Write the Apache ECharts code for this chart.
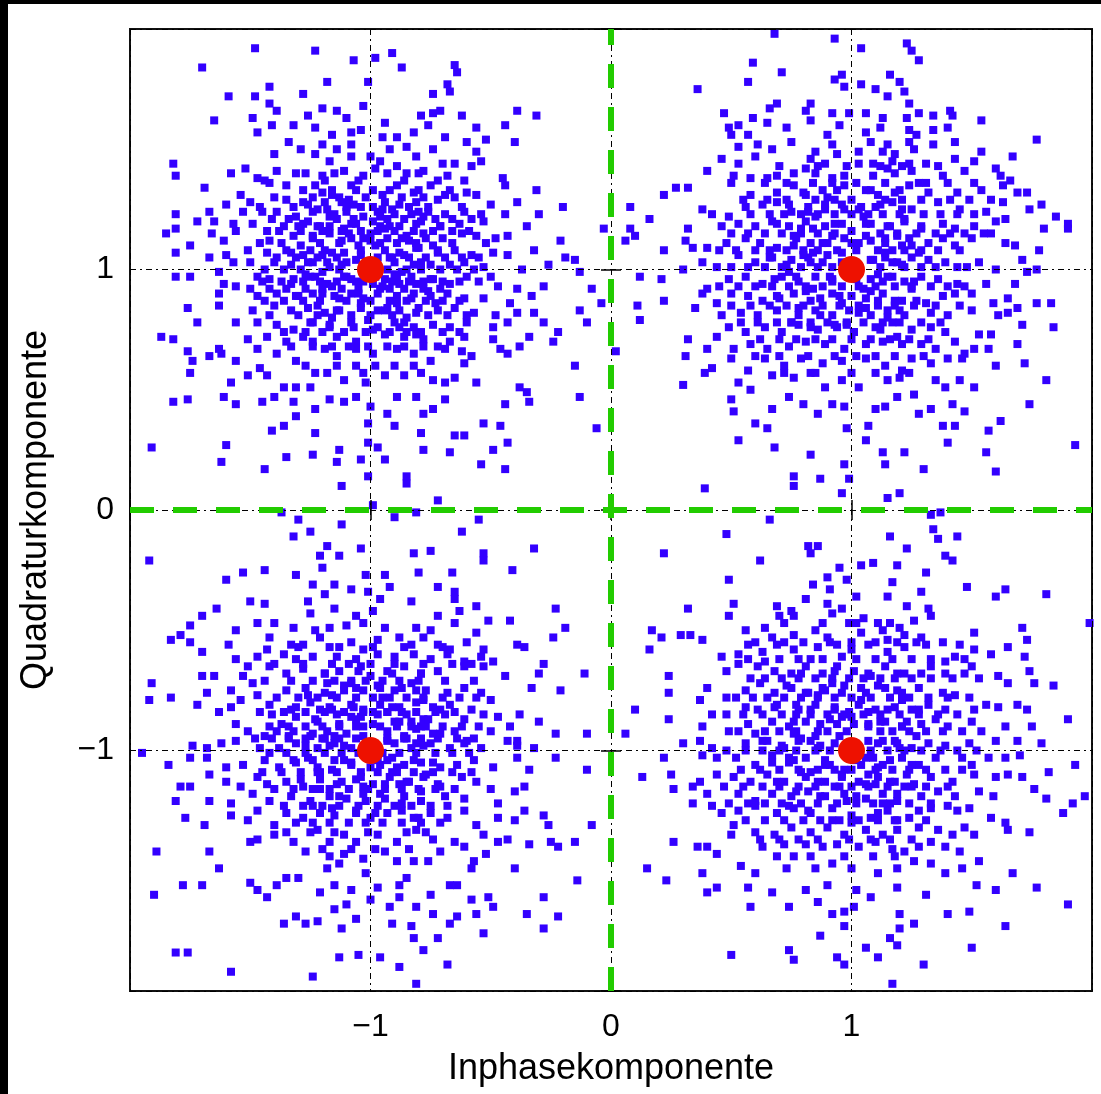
<!DOCTYPE html>
<html>
<head>
<meta charset="utf-8">
<title>QPSK Signalraum</title>
<script src="https://cdn.jsdelivr.net/npm/echarts@6/dist/echarts.min.js"></script>
<style>
  html, body { margin: 0; padding: 0; background: #000; }
  #chart { position: absolute; left: 8px; top: 4px; width: 1093px; height: 1090px; background: #fff; }
</style>
</head>
<body>
<div id="chart"></div>
<script>
// Sollsymbole (rot)
const symbolPoints = [[-1, 1], [1, 1], [-1, -1], [1, -1]]

// Achsenbeschriftung
const tickValues = [-1, 0, 1]
const tickText = ['\u22121', '0', '1']

const clusterTL = [
  [-1.48,1.92],[-1.23,1.91],[-1.07,1.87],[-0.98,1.88],[-0.91,1.90],[-1.70,1.84],[-0.87,1.84],[-0.65,1.85],[-0.64,1.82],
  [-1.18,1.78],[-1.01,1.78],[-0.68,1.77],[-0.67,1.74],[-1.42,1.76],[-1.59,1.72],[-1.48,1.72],[-1.28,1.73],[-0.74,1.73],
  [-1.42,1.69],[-1.39,1.66],[-1.20,1.67],[-1.14,1.66],[-1.03,1.68],[-1.26,1.64],[-1.10,1.63],[-0.94,1.61],[-0.79,1.64],
  [-0.74,1.65],[-0.71,1.66],[-0.62,1.64],[-0.39,1.66],[-0.31,1.64],[-1.65,1.62],[-1.49,1.63],[-1.41,1.60],[-1.32,1.60],
  [-0.44,1.60],[-0.56,1.59],
  [-1.47,1.57],[-1.23,1.59],[-1.16,1.56],[-1.08,1.57],[-1.04,1.58],[-0.95,1.55],[-0.89,1.55],[-0.82,1.57],[-0.76,1.60],
  [-0.69,1.55],[-0.60,1.53],[-0.52,1.54],[-0.40,1.53],[-1.34,1.53],[-1.29,1.50],[-1.20,1.52],[-1.14,1.50],[-1.08,1.52],
  [-1.00,1.47],[-0.92,1.50],[-0.85,1.51],[-0.74,1.50],[-0.56,1.49],[-1.40,1.48],[-1.23,1.48],[-1.17,1.45],[-1.08,1.47],
  [-0.96,1.45],[-0.89,1.43],[-0.81,1.47],[-0.65,1.44],[-0.58,1.43],[-0.54,1.45],[-1.82,1.44],[-1.81,1.39],[-1.58,1.40],
  [-1.52,1.42],[-1.39,1.41],[-1.31,1.40],[-1.20,1.39],[-1.11,1.41],[-1.03,1.39],[-0.98,1.42],[-0.85,1.40],[-0.78,1.41],
  [-0.70,1.44],[-0.68,1.39],[-0.45,1.38],
  [-1.69,1.34],[-1.47,1.38],[-1.42,1.36],[-1.35,1.35],[-1.28,1.33],[-1.23,1.35],[-1.16,1.33],[-1.08,1.35],[-0.99,1.33],
  [-0.89,1.35],[-0.82,1.32],[-0.75,1.35],[-0.67,1.33],[-0.61,1.37],[-0.60,1.32],[-0.44,1.35],[-0.31,1.33],[-1.54,1.31],
  [-1.50,1.28],[-1.35,1.29],[-1.28,1.28],[-1.19,1.28],[-1.13,1.30],[-1.07,1.27],[-0.94,1.28],[-0.87,1.30],[-0.81,1.28],
  [-0.72,1.29],[-0.65,1.30],[-0.56,1.31],[-0.50,1.27],[-0.39,1.28],[-0.20,1.26],[-1.60,1.27],[-1.81,1.23],[-1.67,1.24],
  [-1.53,1.24],[-1.45,1.24],[-1.39,1.24],[-1.31,1.22],[-1.24,1.24],[-1.17,1.22],[-1.10,1.24],[-1.03,1.22],[-0.97,1.24],
  [-0.90,1.23],[-0.83,1.23],[-0.76,1.24],[-0.69,1.23],[-0.61,1.24],[-0.54,1.23],[-0.44,1.23],[-0.30,1.23],[-1.72,1.20],
  [-1.65,1.20],[-1.57,1.19],[-1.49,1.19],[-1.36,1.18],[-1.28,1.19],[-1.21,1.18],[-1.11,1.17],[-1.06,1.19],[-0.96,1.18],
  [-0.88,1.18],[-0.81,1.19],[-0.71,1.18],[-0.63,1.19],[-0.53,1.20],[-0.35,1.18],[-0.03,1.17],
  [-1.85,1.15],[-1.81,1.17],[-1.75,1.10],[-1.66,1.15],[-1.56,1.16],[-1.43,1.16],[-1.42,1.12],[-1.32,1.14],[-1.24,1.13],
  [-1.17,1.15],[-1.08,1.13],[-1.00,1.15],[-0.93,1.13],[-0.85,1.14],[-0.78,1.15],[-0.70,1.13],[-0.62,1.15],[-0.56,1.14],
  [-0.48,1.13],[-0.43,1.14],[-0.21,1.12],[-1.81,1.07],[-1.67,1.05],[-1.61,1.12],[-1.60,1.06],[-1.51,1.08],[-1.43,1.07],
  [-1.35,1.08],[-1.28,1.06],[-1.19,1.08],[-1.11,1.07],[-1.04,1.08],[-0.94,1.08],[-0.88,1.07],[-0.81,1.09],[-0.72,1.07],
  [-0.65,1.08],[-0.58,1.06],[-0.49,1.07],[-0.43,1.06],[-0.32,1.08],[-0.19,1.05],[-0.15,1.04],[-0.26,1.02],[-0.13,0.99],
  [-1.63,0.99],[-1.57,1.03],[-1.50,1.03],[-1.40,1.03],[-1.33,1.02],[-1.24,1.03],[-1.17,1.01],[-1.10,1.03],[-0.90,1.03],
  [-0.85,1.00],[-0.75,1.02],[-0.67,1.02],[-0.61,1.03],[-0.53,1.01],[-0.37,1.00],
  [-1.81,0.97],[-1.75,0.97],[-1.61,0.94],[-1.56,0.93],[-1.47,0.97],[-1.42,0.96],[-1.33,0.94],[-1.25,0.97],[-1.18,0.94],
  [-1.11,0.97],[-1.03,0.95],[-0.94,0.96],[-0.89,0.97],[-0.81,0.94],[-0.75,0.96],[-0.67,0.94],[-0.60,0.97],[-0.50,0.97],
  [-0.47,0.93],[-0.39,0.92],[-0.28,0.93],[-0.08,0.92],[-0.04,0.86],[-1.63,0.90],[-1.47,0.89],[-1.39,0.90],[-1.31,0.89],
  [-1.24,0.90],[-1.15,0.89],[-1.08,0.90],[-1.03,0.88],[-0.97,0.90],[-0.89,0.89],[-0.82,0.90],[-0.75,0.89],[-0.68,0.90],
  [-0.61,0.88],[-0.53,0.88],[-0.42,0.86],[-0.33,0.89],[-1.76,0.84],[-1.63,0.85],[-1.72,0.78],[-1.49,0.83],[-1.40,0.85],
  [-1.33,0.83],[-1.26,0.84],[-1.19,0.82],[-1.13,0.83],[-1.04,0.84],[-0.94,0.83],[-0.88,0.83],[-0.81,0.82],[-0.72,0.83],
  [-0.65,0.84],[-0.57,0.82],[-0.48,0.81],[-0.39,0.82],[-0.32,0.82],[-0.13,0.83],[-0.10,0.78],[-1.56,0.78],
  [-1.47,0.78],[-1.39,0.77],[-1.32,0.75],[-1.24,0.78],[-1.17,0.76],[-1.08,0.78],[-0.97,0.76],[-0.90,0.78],[-0.82,0.76],
  [-0.74,0.77],[-0.67,0.76],[-0.60,0.78],[-0.49,0.76],[-0.43,0.78],[-0.28,0.78],[-1.87,0.72],[-1.82,0.71],[-1.51,0.71],
  [-1.43,0.72],[-1.35,0.70],[-1.28,0.72],[-1.24,0.70],[-1.14,0.72],[-1.06,0.70],[-0.94,0.73],[-0.86,0.72],[-0.78,0.71],
  [-0.67,0.70],[-0.61,0.72],[-0.49,0.71],[-0.34,0.72],[-0.22,0.74],[-0.24,0.70],[-1.76,0.66],[-1.74,0.62],[-1.67,0.64],
  [-1.63,0.67],[-1.62,0.65],[-1.56,0.62],[-1.47,0.67],[-1.39,0.65],[-1.31,0.62],[-1.19,0.67],[-1.14,0.64],[-1.06,0.67],
  [-0.99,0.65],[-0.89,0.67],[-0.82,0.65],[-0.75,0.62],[-0.69,0.67],[-0.62,0.66],[-0.58,0.64],[-0.46,0.67],[-0.43,0.65],
  [-0.38,0.68],[-0.15,0.60],[-0.61,0.61],
  [-1.75,0.57],[-1.58,0.53],[-1.51,0.56],[-1.46,0.59],[-1.43,0.56],[-1.36,0.51],[-1.31,0.51],[-1.25,0.51],[-1.23,0.57],
  [-1.18,0.57],[-1.11,0.54],[-1.03,0.57],[-1.02,0.53],[-0.94,0.56],[-0.86,0.56],[-0.79,0.57],[-0.74,0.54],[-0.69,0.53],
  [-0.65,0.55],[-0.56,0.53],[-0.38,0.51],[-0.35,0.49],[-1.82,0.45],[-1.76,0.46],[-1.61,0.47],[-1.56,0.44],[-1.45,0.45],
  [-1.40,0.47],[-1.32,0.45],[-1.31,0.39],[-1.23,0.42],[-1.17,0.46],[-1.11,0.45],[-1.06,0.47],[-1.00,0.43],[-0.93,0.40],
  [-0.89,0.47],[-0.81,0.47],[-0.78,0.40],[-0.74,0.42],[-0.69,0.46],[-0.44,0.44],[-0.34,0.45],[-0.13,0.47],[-0.06,0.34],
  [-1.36,0.35],[-1.41,0.33],[-1.23,0.32],[-1.01,0.36],[-0.90,0.35],[-0.79,0.32],[-0.65,0.31],[-0.61,0.31],[-0.53,0.36],
  [-0.46,0.35],[-0.43,0.28],
  [-1.91,0.26],[-1.60,0.27],[-1.01,0.28],[-0.97,0.26],[-0.78,0.25],[-0.67,0.24],[-0.49,0.25],[-1.62,0.20],[-1.35,0.22],
  [-1.24,0.23],[-1.13,0.25],[-1.04,0.21],[-0.94,0.21],[-1.14,0.20],[-1.44,0.17],[-0.54,0.19],[-0.44,0.17],[-1.01,0.14],
  [-0.85,0.14],[-0.85,0.11],[-1.12,0.10],[-0.72,0.04],[-0.99,0.02]
]

// dichter Kern um (-1, 1)
const coreTL = [
  [-1.27,1.40],[-1.15,1.40],[-0.93,1.40],[-0.80,1.40],
  [-1.44,1.37],[-1.19,1.37],[-1.05,1.37],[-0.86,1.37],[-0.72,1.37],
  [-1.40,1.30],[-1.24,1.30],[-1.16,1.31],[-1.02,1.30],[-0.95,1.31],[-0.78,1.30],[-0.69,1.31],
  [-1.46,1.26],[-1.32,1.26],[-1.22,1.25],[-1.10,1.26],[-0.99,1.26],[-0.91,1.25],[-0.84,1.26],[-0.76,1.26],[-0.62,1.26],
  [-1.41,1.21],[-1.34,1.21],[-1.26,1.20],[-1.14,1.21],[-1.07,1.21],[-0.99,1.20],[-0.93,1.21],[-0.86,1.21],[-0.79,1.20],
  [-0.73,1.21],[-0.66,1.21],[-0.58,1.21],
  [-1.38,1.16],[-1.29,1.16],[-1.20,1.16],[-1.12,1.16],[-1.04,1.16],[-0.97,1.16],[-0.90,1.16],[-0.82,1.16],[-0.74,1.16],
  [-0.66,1.16],[-0.59,1.16],
  [-1.46,1.11],[-1.37,1.11],[-1.29,1.10],[-1.21,1.11],[-1.13,1.11],[-1.05,1.10],[-0.96,1.11],[-0.89,1.11],[-0.81,1.11],
  [-0.74,1.10],[-0.66,1.11],[-0.52,1.11],
  [-1.39,1.05],[-1.31,1.05],[-1.22,1.05],[-1.14,1.05],[-1.06,1.04],[-0.97,1.05],[-0.91,1.05],[-0.84,1.05],[-0.77,1.05],
  [-0.69,1.05],[-0.62,1.05],[-0.55,1.05],
  [-1.44,1.00],[-1.36,1.00],[-1.29,1.00],[-1.20,0.99],[-1.13,1.00],[-0.93,1.00],[-0.87,0.99],[-0.79,1.00],[-0.71,1.00],
  [-0.64,1.00],[-0.57,1.00],
  [-1.45,0.95],[-1.37,0.95],[-1.28,0.95],[-1.21,0.95],[-1.14,0.95],[-1.06,0.95],[-0.99,0.94],[-0.91,0.95],[-0.84,0.95],
  [-0.78,0.95],[-0.70,0.95],[-0.63,0.95],[-0.55,0.95],
  [-1.50,0.92],[-1.42,0.92],[-1.35,0.92],[-1.27,0.92],[-1.20,0.92],[-1.12,0.92],[-1.05,0.92],[-0.96,0.92],[-0.86,0.92],
  [-0.78,0.92],[-0.71,0.92],
  [-1.44,0.87],[-1.36,0.87],[-1.28,0.87],[-1.21,0.87],[-1.10,0.87],[-1.00,0.87],[-0.92,0.87],[-0.85,0.87],[-0.77,0.87],
  [-0.70,0.87],[-0.63,0.87],
  [-1.42,0.81],[-1.30,0.81],[-1.22,0.81],[-1.16,0.80],[-1.08,0.81],[-1.00,0.81],[-0.91,0.81],[-0.85,0.80],[-0.76,0.81],
  [-0.68,0.81],[-0.60,0.81],
  [-1.36,0.74],[-1.27,0.74],[-1.20,0.74],[-1.11,0.74],[-1.02,0.74],[-0.92,0.74],[-0.85,0.74],[-0.79,0.74],[-0.70,0.74],
  [-0.63,0.74],
  [-1.33,0.68],[-1.24,0.68],[-1.16,0.68],[-1.09,0.68],[-1.01,0.68],[-0.93,0.68],[-0.86,0.68],[-0.78,0.68],[-0.72,0.68],
  [-1.27,0.60],[-1.14,0.60],[-1.06,0.60],[-0.98,0.60],[-0.90,0.60],[-0.82,0.60],
  [-1.22,1.18],[-1.15,1.23],[-1.08,1.19],[-0.94,1.17],[-0.87,1.13],[-0.80,1.09],[-1.25,1.08],[-1.18,1.03],[-1.10,0.97],
  [-1.05,0.90],[-0.95,0.93],[-0.90,0.98],[-0.82,1.02],[-0.76,0.91],[-0.98,1.10],[-1.03,1.13],[-1.12,1.12],[-1.20,0.90],
  [-1.27,0.98],[-0.93,0.84],[-0.86,0.78],[-1.01,0.79],[-1.14,0.83],[-0.80,1.24],[-0.95,1.25],[-1.09,1.29],[-0.88,0.94],
  [-1.16,1.07],[-0.92,1.05],[-0.83,0.88],
  [-1.26,1.27],[-1.18,1.25],[-1.12,1.28],[-1.04,1.26],[-0.96,1.22],[-0.88,1.27],[-0.78,1.22],[-0.71,1.18],
  [-1.30,1.18],[-1.24,1.14],[-1.17,1.18],[-1.09,1.15],[-1.00,1.12],[-0.92,1.18],[-0.84,1.12],[-0.77,1.13],
  [-1.33,1.07],[-1.26,1.03],[-1.20,1.06],[-1.12,1.02],[-1.04,1.06],[-0.86,1.06],[-0.79,1.03],[-0.72,1.08],
  [-1.32,0.96],[-1.23,0.97],[-1.16,0.93],[-1.08,0.96],[-0.98,0.97],[-0.92,0.92],[-0.83,0.97],[-0.74,0.96],
  [-1.30,0.89],[-1.22,0.85],[-1.13,0.88],[-1.04,0.86],[-0.97,0.83],[-0.89,0.86],[-0.80,0.84],[-0.73,0.86],
  [-1.25,0.78],[-1.17,0.77],[-1.07,0.76],[-0.99,0.75],[-0.88,0.76],[-0.81,0.73],
  [-1.20,1.32],[-1.06,1.33],[-0.92,1.33],[-0.80,1.33]
]

const clusterTR = [
  [0.68,1.98],[0.93,1.96],[1.04,1.92],[1.23,1.94],[1.25,1.91],[1.28,1.87],[0.59,1.86],[0.71,1.82],[0.96,1.81],[0.93,1.79],
  [1.16,1.81],[0.57,1.78],[0.36,1.75],[0.97,1.76],[1.04,1.77],[1.10,1.75],[1.20,1.78],[1.22,1.74],[1.15,1.72],[0.69,1.69],
  [0.66,1.67],[0.83,1.69],[0.81,1.66],[1.24,1.69],[0.47,1.65],[0.92,1.65],[0.99,1.65],[1.06,1.65],[1.28,1.65],[1.34,1.64],
  [1.41,1.66],[1.42,1.64],[0.59,1.63],[0.65,1.61],[0.83,1.62],[1.13,1.63],[1.23,1.63],[1.54,1.62],[0.49,1.59],[0.53,1.60],
  [0.73,1.59],[0.95,1.60],[1.12,1.59],[1.24,1.58],[1.34,1.58],[1.40,1.59],
  [0.50,1.56],[0.57,1.56],[0.75,1.53],[0.90,1.56],[0.92,1.52],[1.06,1.57],[1.08,1.53],[1.15,1.52],[1.24,1.53],[1.27,1.56],
  [1.34,1.52],[1.43,1.53],[1.77,1.54],[0.53,1.51],[0.61,1.52],[0.67,1.50],[0.85,1.49],[0.94,1.48],[1.03,1.49],[1.13,1.49],
  [1.18,1.48],[1.26,1.50],[1.54,1.49],[1.67,1.47],[0.46,1.46],[0.53,1.44],[0.60,1.47],[0.83,1.46],[0.89,1.44],[1.03,1.44],
  [1.09,1.44],[1.17,1.45],[1.24,1.44],[1.31,1.44],[1.43,1.46],[1.51,1.45],[0.40,1.41],[0.51,1.39],[0.58,1.38],[0.65,1.38],
  [0.69,1.39],[0.76,1.40],[0.81,1.42],[0.85,1.40],[0.92,1.38],[0.97,1.39],[1.09,1.39],[1.15,1.42],[1.18,1.40],[1.25,1.41],
  [1.38,1.39],[1.47,1.41],[1.60,1.42],[1.62,1.39],
  [0.22,1.31],[0.27,1.34],[0.32,1.34],[0.50,1.36],[0.58,1.31],[0.69,1.32],[0.76,1.35],[0.81,1.31],[0.88,1.33],[0.97,1.35],
  [1.06,1.33],[1.11,1.31],[1.18,1.32],[1.24,1.35],[1.31,1.36],[1.32,1.32],[1.44,1.32],[1.51,1.36],[1.54,1.33],[1.63,1.35],
  [1.66,1.37],[1.69,1.32],[1.73,1.32],[0.08,1.26],[0.38,1.25],[0.42,1.23],[0.49,1.22],[0.56,1.26],[0.63,1.27],[0.69,1.28],
  [0.75,1.24],[0.82,1.26],[0.89,1.25],[0.96,1.27],[1.03,1.25],[1.10,1.26],[1.17,1.28],[1.25,1.25],[1.36,1.28],[1.45,1.25],
  [1.56,1.24],[1.58,1.29],[1.63,1.28],[1.74,1.25],[1.79,1.27],[0.16,1.21],[0.08,1.17],[0.32,1.17],[0.46,1.18],[0.53,1.19],
  [0.60,1.18],[0.67,1.20],[0.74,1.18],[0.81,1.20],[0.89,1.18],[0.96,1.19],[1.08,1.19],[1.15,1.18],[1.22,1.20],[1.29,1.18],
  [1.38,1.19],[1.43,1.17],[1.51,1.18],[1.60,1.20],[1.64,1.21],[1.80,1.17],[1.85,1.22],[1.90,1.19],
  [0.06,1.12],[0.10,1.14],[0.22,1.08],[0.31,1.12],[0.34,1.09],[0.40,1.09],[0.48,1.11],[0.56,1.13],[0.62,1.11],[0.69,1.09],
  [0.76,1.14],[0.83,1.11],[0.90,1.11],[1.00,1.11],[1.06,1.14],[1.14,1.11],[1.19,1.14],[1.25,1.10],[1.32,1.11],[1.38,1.13],
  [1.43,1.10],[1.50,1.13],[1.58,1.15],[1.64,1.11],[1.68,1.10],[1.78,1.08],[1.90,1.17],[0.38,1.03],[0.44,1.01],[0.30,1.00],
  [0.53,1.06],[0.60,1.03],[0.67,1.05],[0.75,1.04],[0.83,1.03],[0.90,1.06],[0.96,1.03],[1.08,1.04],[1.14,1.07],[1.19,1.03],
  [1.25,1.05],[1.32,1.04],[1.39,1.03],[1.53,1.03],[1.71,1.04],[1.60,1.00],[1.73,0.99],[1.77,1.00],[0.12,0.97],[0.21,0.96],
  [0.38,0.90],[0.40,0.92],[0.49,0.96],[0.56,0.97],[0.63,0.94],[0.71,0.97],[0.78,0.95],[0.85,0.97],[0.92,0.96],[1.08,0.96],
  [1.15,0.97],[1.22,0.95],[1.29,0.97],[1.36,0.96],[1.44,0.94],[1.56,0.94],[1.68,0.94],[0.22,0.87],[0.11,0.85],[0.12,0.79],
  [0.35,0.84],[0.44,0.86],[0.50,0.90],[0.57,0.89],[0.63,0.87],[0.69,0.89],[0.76,0.90],[0.83,0.87],[0.92,0.90],[1.00,0.89],
  [1.06,0.88],[1.13,0.90],[1.21,0.87],[1.31,0.86],[1.38,0.89],[1.43,0.90],[1.50,0.90],[1.59,0.86],[1.65,0.88],[1.69,0.84],
  [1.77,0.86],[1.83,0.86],[0.46,0.81],[0.54,0.82],[0.61,0.81],[0.69,0.83],[0.78,0.81],[0.85,0.83],[0.92,0.81],[0.99,0.83],
  [1.08,0.81],[1.15,0.83],[1.22,0.81],[1.33,0.82],[1.40,0.81],[1.50,0.83],[1.61,0.81],[1.65,0.82],
  [0.49,0.76],[0.56,0.74],[0.64,0.76],[0.71,0.74],[0.78,0.77],[0.86,0.75],[0.94,0.76],[1.01,0.74],[1.10,0.76],[1.17,0.78],
  [1.25,0.75],[1.33,0.76],[1.39,0.74],[1.53,0.73],[1.58,0.73],[1.71,0.77],[1.84,0.76],[0.32,0.71],[0.44,0.72],[0.02,0.66],
  [0.31,0.64],[0.40,0.67],[0.51,0.67],[0.58,0.69],[0.65,0.67],[0.74,0.68],[0.81,0.70],[0.89,0.69],[0.97,0.67],[1.06,0.69],
  [1.13,0.70],[1.21,0.69],[1.29,0.69],[1.35,0.67],[1.43,0.70],[1.47,0.65],[1.51,0.67],[1.57,0.67],[1.69,0.69],[0.39,0.57],
  [0.42,0.59],[0.50,0.63],[0.57,0.58],[0.64,0.63],[0.72,0.60],[0.79,0.63],[0.88,0.61],[0.96,0.62],[1.06,0.63],[1.14,0.60],
  [1.21,0.58],[1.25,0.63],[1.33,0.61],[1.40,0.63],[1.46,0.63],[1.60,0.60],[1.72,0.61],
  [0.30,0.52],[0.53,0.53],[0.58,0.50],[0.67,0.56],[0.76,0.55],[0.83,0.57],[0.89,0.51],[0.96,0.54],[1.03,0.51],[1.15,0.54],
  [1.20,0.55],[1.35,0.54],[1.39,0.51],[1.45,0.54],[1.51,0.51],[1.81,0.54],[0.50,0.46],[0.51,0.41],[0.67,0.42],[0.74,0.47],
  [0.80,0.44],[0.86,0.40],[0.92,0.44],[0.97,0.43],[1.10,0.42],[1.14,0.43],[1.19,0.47],[1.26,0.48],[1.28,0.40],[1.33,0.42],
  [1.42,0.44],[1.47,0.41],[1.74,0.44],[0.60,0.36],[0.65,0.34],[0.98,0.34],[1.07,0.35],[1.38,0.35],[1.43,0.35],[1.57,0.33],
  [1.62,0.37],[0.53,0.29],[0.68,0.26],[1.06,0.29],[1.40,0.28],[1.93,0.27],[0.83,0.23],[1.13,0.24],[1.22,0.24],[1.56,0.24],
  [0.97,0.19],[1.14,0.19],[1.30,0.17],[1.60,0.16],[0.76,0.14],[0.76,0.10],[0.87,0.13],[0.99,0.13],[0.39,0.09],[0.96,0.07],
  [1.20,0.07],[1.15,0.05]
]

// dichter Kern um (1, 1)
const coreTR = [
  [0.70,1.43],[0.86,1.43],[0.98,1.43],[1.12,1.43],[1.21,1.43],[1.36,1.43],
  [0.64,1.36],[0.73,1.36],[0.84,1.36],[0.92,1.36],[1.02,1.36],[1.14,1.36],[1.28,1.36],[1.40,1.36],
  [0.55,1.29],[0.65,1.29],[0.73,1.29],[0.85,1.29],[0.93,1.29],[1.00,1.29],[1.14,1.29],[1.21,1.29],[1.29,1.29],[1.41,1.29],
  [1.49,1.29],
  [0.58,1.23],[0.66,1.23],[0.72,1.23],[0.79,1.23],[0.86,1.23],[0.93,1.23],[1.00,1.23],[1.07,1.23],[1.13,1.23],[1.20,1.23],
  [1.30,1.23],[1.37,1.23],[1.44,1.23],[1.51,1.23],
  [0.50,1.15],[0.57,1.15],[0.64,1.15],[0.71,1.15],[0.79,1.15],[0.86,1.15],[0.93,1.15],[1.12,1.15],[1.19,1.15],[1.27,1.15],
  [1.35,1.15],[1.41,1.15],[1.47,1.15],[1.55,1.15],
  [0.45,1.08],[0.52,1.08],[0.60,1.08],[0.66,1.08],[0.73,1.08],[0.80,1.08],[0.86,1.08],[0.94,1.08],[1.02,1.08],[1.11,1.08],
  [1.17,1.08],[1.22,1.08],[1.29,1.08],[1.36,1.08],[1.45,1.08],
  [0.50,1.01],[0.57,1.01],[0.64,1.01],[0.71,1.01],[0.79,1.01],[0.86,1.01],[0.92,1.01],[1.12,1.01],[1.22,1.01],[1.29,1.01],
  [1.35,1.01],[1.44,1.01],[1.48,1.01],
  [0.45,0.93],[0.53,0.93],[0.60,0.93],[0.67,0.93],[0.74,0.93],[0.81,0.93],[0.88,0.93],[0.96,0.93],[1.03,0.93],[1.10,0.93],
  [1.18,0.93],[1.25,0.93],[1.33,0.93],[1.40,0.93],[1.47,0.93],
  [0.50,0.85],[0.58,0.85],[0.66,0.85],[0.73,0.85],[0.80,0.85],[0.88,0.85],[0.95,0.85],[1.03,0.85],[1.11,0.85],[1.18,0.85],
  [1.26,0.85],[1.35,0.85],[1.45,0.85],
  [0.54,0.78],[0.61,0.78],[0.69,0.78],[0.75,0.78],[0.83,0.78],[0.90,0.78],[0.98,0.78],[1.05,0.78],[1.13,0.78],[1.20,0.78],
  [1.29,0.78],[1.37,0.78],
  [0.62,0.71],[0.70,0.71],[0.77,0.71],[0.85,0.71],[0.92,0.71],[1.00,0.71],[1.08,0.71],[1.16,0.71],[1.24,0.71],[1.32,0.71],
  [0.60,0.64],[0.70,0.64],[0.82,0.64],[0.93,0.64],[1.02,0.64],[1.10,0.64],[1.18,0.64],[1.30,0.64],
  [0.72,0.57],[0.85,0.57],[1.00,0.57],[1.10,0.57],[1.24,0.57],
  [0.79,1.17],[0.85,1.22],[0.93,1.19],[1.06,1.19],[1.14,1.13],[1.21,1.10],[0.76,1.10],[0.82,1.05],[0.91,0.97],[0.95,0.89],
  [1.05,0.92],[1.11,0.98],[1.17,1.03],[1.25,0.92],[1.03,1.11],[0.97,1.13],[0.88,1.11],[0.81,0.91],[0.74,0.99],[1.06,0.84],
  [1.15,0.80],[0.98,0.77],[0.87,0.81],[1.21,1.25],[1.04,1.26],[0.90,1.30],[1.13,0.95],[0.84,1.07],[1.09,1.04],[1.18,0.87],
  [0.74,1.27],[0.82,1.24],[0.89,1.27],[0.97,1.25],[1.05,1.22],[1.12,1.27],[1.22,1.21],[1.29,1.17],
  [0.69,1.19],[0.77,1.13],[0.84,1.17],[0.92,1.14],[1.00,1.16],[1.08,1.12],[1.16,1.18],[1.24,1.13],
  [0.66,1.05],[0.73,1.02],[0.80,1.06],[0.88,1.03],[0.96,1.07],[1.14,1.05],[1.21,1.02],[1.28,1.07],
  [0.68,0.96],[0.77,0.97],[0.84,0.92],[0.92,0.95],[1.02,0.96],[1.08,0.91],[1.17,0.97],[1.26,0.95],
  [0.70,0.88],[0.78,0.84],[0.87,0.88],[0.96,0.86],[1.03,0.82],[1.11,0.87],[1.20,0.83],[1.27,0.87],
  [0.75,0.78],[0.83,0.76],[0.93,0.77],[1.01,0.74],[1.12,0.75],[1.19,0.72],
  [0.80,1.32],[0.94,1.33],[1.08,1.33],[1.20,1.33]
]

const clusterBL = [
  [-1.37,-0.01],[-1.30,-0.04],[-1.25,-0.09],[-1.32,-0.11],[-1.12,-0.06],[-0.90,-0.03],[-0.81,-0.01],[-0.55,-0.04],[-0.62,-0.09],
  [-1.92,-0.21],[-1.18,-0.15],[-1.21,-0.19],[-1.13,-0.19],[-1.04,-0.16],[-0.82,-0.18],[-0.75,-0.17],[-0.53,-0.18],[-0.53,-0.21],
  [-0.32,-0.16],[-1.20,-0.24],[-1.53,-0.26],[-1.44,-0.25],[-1.31,-0.27],[-1.02,-0.27],[-0.94,-0.27],[-0.80,-0.26],[-0.66,-0.26],
  [-0.41,-0.25],[-1.60,-0.29],[-1.24,-0.31],[-1.15,-0.31],[-1.08,-0.33],[-1.01,-0.34],[-0.92,-0.32],[-0.72,-0.32],[-0.65,-0.34],
  [-1.19,-0.35],[-1.50,-0.38],[-1.44,-0.39],[-1.26,-0.38],[-0.96,-0.37],[-0.83,-0.38],[-0.65,-0.37],[-0.56,-0.40],[-1.64,-0.41],
  [-1.15,-0.41],[-0.99,-0.42],[-0.63,-0.42],[-0.23,-0.41],
  [-1.70,-0.44],[-1.25,-0.43],[-1.06,-0.44],[-0.72,-0.44],[-1.75,-0.48],[-1.47,-0.47],[-1.40,-0.47],[-1.32,-0.49],[-1.23,-0.50],
  [-1.17,-0.49],[-1.10,-0.48],[-1.03,-0.47],[-0.94,-0.49],[-0.81,-0.49],[-0.75,-0.50],[-0.65,-0.47],[-0.51,-0.46],[-0.42,-0.46],
  [-0.19,-0.49],[-0.56,-0.51],[-1.83,-0.54],[-1.79,-0.52],[-1.75,-0.55],[-1.56,-0.50],[-1.59,-0.56],[-1.42,-0.53],[-1.43,-0.58],
  [-1.33,-0.56],[-1.28,-0.56],[-1.21,-0.53],[-1.17,-0.57],[-1.08,-0.55],[-1.03,-0.58],[-0.97,-0.54],[-0.88,-0.53],[-0.83,-0.56],
  [-0.78,-0.53],[-0.72,-0.56],[-0.67,-0.58],[-0.60,-0.55],[-0.53,-0.58],[-0.39,-0.56],[-0.24,-0.53],[-1.70,-0.59],[-1.56,-0.62],
  [-1.47,-0.61],[-1.36,-0.60],[-1.31,-0.62],[-1.24,-0.61],[-1.14,-0.61],[-1.06,-0.62],[-0.97,-0.60],[-0.90,-0.61],[-0.82,-0.60],
  [-0.75,-0.62],[-0.68,-0.60],[-0.61,-0.63],[-0.54,-0.61],[-0.49,-0.63],[-0.36,-0.57],
  [-1.70,-0.69],[-1.65,-0.69],[-1.51,-0.65],[-1.53,-0.69],[-1.42,-0.65],[-1.35,-0.68],[-1.28,-0.66],[-1.19,-0.68],[-1.13,-0.67],
  [-1.04,-0.65],[-1.00,-0.69],[-0.93,-0.67],[-0.86,-0.65],[-0.79,-0.68],[-0.72,-0.67],[-0.61,-0.65],[-0.53,-0.65],[-0.44,-0.69],
  [-0.28,-0.64],[-0.30,-0.68],[-0.11,-0.68],[-1.91,-0.72],[-1.92,-0.79],[-1.83,-0.78],[-1.68,-0.76],[-1.58,-0.75],[-1.49,-0.72],
  [-1.47,-0.77],[-1.35,-0.75],[-1.26,-0.77],[-1.18,-0.72],[-1.11,-0.75],[-1.06,-0.74],[-0.97,-0.73],[-0.90,-0.75],[-0.83,-0.72],
  [-0.77,-0.75],[-0.68,-0.76],[-0.61,-0.74],[-0.54,-0.76],[-0.50,-0.79],[-0.33,-0.74],[-0.21,-0.75],[-1.72,-0.81],[-1.58,-0.82],
  [-1.54,-0.79],[-1.42,-0.81],[-1.33,-0.83],[-1.25,-0.80],[-1.17,-0.82],[-1.08,-0.81],[-1.03,-0.83],[-0.96,-0.81],[-0.88,-0.82],
  [-0.81,-0.80],[-0.74,-0.82],[-0.67,-0.81],[-0.58,-0.83],
  [-1.63,-0.84],[-1.41,-0.85],[-1.37,-0.89],[-1.31,-0.86],[-1.22,-0.88],[-1.14,-0.85],[-1.06,-0.87],[-0.97,-0.85],[-0.90,-0.88],
  [-0.85,-0.85],[-0.78,-0.87],[-0.69,-0.85],[-0.61,-0.87],[-0.53,-0.85],[-0.47,-0.86],[-0.38,-0.85],[-0.30,-0.88],[-0.42,-0.90],
  [-1.56,-0.89],[-1.51,-0.92],[-1.44,-0.94],[-1.39,-0.92],[-1.32,-0.92],[-1.25,-0.94],[-1.18,-0.92],[-1.10,-0.93],[-1.03,-0.90],
  [-0.93,-0.92],[-0.86,-0.94],[-0.81,-0.91],[-0.74,-0.93],[-0.65,-0.92],[-0.60,-0.96],[-0.50,-0.92],[-0.43,-0.96],[-0.39,-0.96],
  [-0.23,-0.93],[-0.10,-0.93],[-1.95,-1.01],[-1.74,-0.98],[-1.68,-0.99],[-1.62,-0.97],[-1.56,-0.96],[-1.46,-0.99],[-1.38,-0.99],
  [-1.31,-0.97],[-1.22,-0.99],[-1.15,-0.97],[-1.08,-0.99],[-0.90,-0.97],[-0.83,-0.99],[-0.75,-0.97],[-0.67,-0.99],[-0.61,-0.97],
  [-0.54,-0.99],[-0.39,-0.98],[-0.32,-0.99],
  [-1.84,-1.06],[-1.75,-1.03],[-1.68,-1.03],[-1.60,-1.07],[-1.53,-1.06],[-1.44,-1.04],[-1.38,-1.07],[-1.31,-1.05],[-1.22,-1.07],
  [-1.15,-1.04],[-1.08,-1.06],[-1.00,-1.07],[-0.93,-1.04],[-0.86,-1.06],[-0.79,-1.05],[-0.71,-1.07],[-0.64,-1.06],[-0.57,-1.04],
  [-0.49,-1.07],[-0.39,-1.03],[-0.34,-1.08],[-0.23,-1.03],[-0.10,-1.08],[-1.67,-1.10],[-1.79,-1.15],[-1.75,-1.15],[-1.81,-1.21],
  [-1.60,-1.13],[-1.54,-1.15],[-1.47,-1.11],[-1.43,-1.14],[-1.35,-1.13],[-1.28,-1.15],[-1.21,-1.12],[-1.14,-1.14],[-1.06,-1.12],
  [-0.99,-1.14],[-0.92,-1.11],[-0.85,-1.13],[-0.78,-1.11],[-0.71,-1.15],[-0.62,-1.11],[-0.56,-1.13],[-0.50,-1.16],[-0.36,-1.15],
  [-1.67,-1.21],[-1.58,-1.22],[-1.49,-1.18],[-1.42,-1.21],[-1.33,-1.19],[-1.25,-1.21],[-1.17,-1.19],[-1.10,-1.20],[-1.03,-1.18],
  [-0.94,-1.20],[-0.86,-1.19],[-0.79,-1.21],[-0.69,-1.19],[-0.61,-1.20],[-0.47,-1.22],[-0.40,-1.17],
  [-1.77,-1.28],[-1.69,-1.31],[-1.58,-1.27],[-1.51,-1.29],[-1.47,-1.25],[-1.40,-1.31],[-1.35,-1.26],[-1.28,-1.28],[-1.21,-1.26],
  [-1.15,-1.27],[-1.06,-1.26],[-1.00,-1.28],[-0.93,-1.26],[-0.82,-1.28],[-0.75,-1.26],[-0.68,-1.28],[-0.61,-1.25],[-0.56,-1.31],
  [-0.47,-1.28],[-0.40,-1.29],[-0.36,-1.25],[-0.28,-1.27],[-0.26,-1.31],[-0.08,-1.31],[-1.50,-1.38],[-1.47,-1.37],[-1.40,-1.35],
  [-1.32,-1.38],[-1.27,-1.42],[-1.22,-1.33],[-1.17,-1.38],[-1.11,-1.35],[-1.06,-1.38],[-0.97,-1.35],[-0.89,-1.38],[-0.81,-1.33],
  [-0.74,-1.37],[-0.65,-1.38],[-0.61,-1.40],[-0.53,-1.35],[-0.47,-1.38],[-0.43,-1.37],[-0.34,-1.39],[-0.25,-1.38],[-0.22,-1.40],
  [-0.15,-1.38],[-1.89,-1.42],[-1.67,-1.42],
  [-1.17,-1.44],[-1.11,-1.43],[-1.03,-1.45],[-0.94,-1.42],[-0.89,-1.46],[-0.82,-1.46],[-0.76,-1.46],[-0.71,-1.42],[-0.57,-1.46],
  [-0.52,-1.43],[-0.58,-1.49],[-0.40,-1.49],[-1.63,-1.49],[-1.18,-1.49],[-1.13,-1.47],[-1.02,-1.51],[-1.78,-1.56],[-1.70,-1.56],
  [-1.90,-1.60],[-1.50,-1.55],[-1.47,-1.58],[-1.43,-1.61],[-1.39,-1.56],[-1.35,-1.53],[-1.30,-1.53],[-1.21,-1.59],[-1.15,-1.56],
  [-1.08,-1.58],[-0.97,-1.57],[-0.88,-1.56],[-0.85,-1.53],[-0.88,-1.61],[-0.75,-1.60],[-0.67,-1.56],[-0.64,-1.56],[-0.58,-1.62],
  [-0.51,-1.61],[-0.49,-1.65],[-0.28,-1.61],[-0.14,-1.54],[-1.15,-1.66],[-1.10,-1.64],[-1.00,-1.62],[-0.92,-1.65],[-0.81,-1.65],
  [-0.74,-1.68],[-0.64,-1.69],[-0.56,-1.68],[-0.35,-1.68],[-0.22,-1.69],[-1.36,-1.72],[-1.31,-1.69],[-1.27,-1.72],[-1.22,-1.71],
  [-1.06,-1.70],[-0.91,-1.72],[-0.83,-1.73],[-0.67,-1.72],[-0.28,-1.74],[-0.53,-1.76],[-1.12,-1.74],[-0.82,-1.78],[-0.72,-1.78],
  [-1.81,-1.84],[-1.76,-1.84],[-1.13,-1.86],[-1.05,-1.85],[-0.96,-1.86],[-0.78,-1.83],[-1.58,-1.92],[-1.24,-1.94],[-0.88,-1.90],
  [-0.68,-1.89],[-0.81,-1.97]
]

// dichter Kern um (-1, -1)
const coreBL = [
  [-1.30,-0.57],[-1.13,-0.57],[-0.99,-0.57],[-0.86,-0.57],[-0.70,-0.57],
  [-1.40,-0.64],[-1.28,-0.64],[-1.16,-0.64],[-1.09,-0.64],[-1.00,-0.64],[-0.90,-0.64],[-0.78,-0.64],[-0.66,-0.64],[-0.58,-0.64],
  [-1.44,-0.71],[-1.33,-0.71],[-1.24,-0.71],[-1.15,-0.71],[-1.08,-0.71],[-1.02,-0.71],[-0.95,-0.71],[-0.88,-0.71],[-0.80,-0.71],
  [-0.69,-0.71],[-0.57,-0.71],
  [-1.39,-0.78],[-1.30,-0.78],[-1.22,-0.78],[-1.14,-0.78],[-1.06,-0.78],[-0.99,-0.78],[-0.92,-0.78],[-0.85,-0.78],[-0.78,-0.78],
  [-0.70,-0.78],[-0.63,-0.78],[-0.56,-0.78],
  [-1.46,-0.84],[-1.36,-0.84],[-1.27,-0.84],[-1.19,-0.84],[-1.11,-0.84],[-1.03,-0.84],[-0.93,-0.84],[-0.87,-0.84],[-0.81,-0.84],
  [-0.73,-0.84],[-0.65,-0.84],
  [-1.42,-0.90],[-1.34,-0.90],[-1.27,-0.90],[-1.20,-0.90],[-1.13,-0.90],[-1.06,-0.90],[-0.96,-0.90],[-0.89,-0.90],[-0.83,-0.90],
  [-0.77,-0.90],[-0.70,-0.90],[-0.62,-0.90],[-0.55,-0.90],
  [-1.48,-0.95],[-1.41,-0.95],[-1.34,-0.95],[-1.27,-0.95],[-1.20,-0.95],[-1.13,-0.95],[-1.06,-0.95],[-0.93,-0.95],[-0.86,-0.95],
  [-0.79,-0.95],[-0.72,-0.95],[-0.64,-0.95],[-0.57,-0.95],
  [-1.42,-1.01],[-1.35,-1.01],[-1.27,-1.01],[-1.19,-1.01],[-1.12,-1.01],[-1.05,-1.01],[-0.95,-1.01],[-0.88,-1.01],[-0.81,-1.01],
  [-0.73,-1.01],[-0.66,-1.01],[-0.59,-1.01],
  [-1.45,-1.09],[-1.37,-1.09],[-1.29,-1.09],[-1.22,-1.09],[-1.14,-1.09],[-1.04,-1.09],[-0.97,-1.09],[-0.89,-1.09],[-0.82,-1.09],
  [-0.74,-1.09],[-0.66,-1.09],[-0.58,-1.09],
  [-1.40,-1.16],[-1.32,-1.16],[-1.24,-1.16],[-1.17,-1.16],[-1.09,-1.16],[-1.01,-1.16],[-0.94,-1.16],[-0.87,-1.16],[-0.80,-1.16],
  [-0.73,-1.16],[-0.65,-1.16],
  [-1.36,-1.23],[-1.28,-1.23],[-1.20,-1.23],[-1.13,-1.23],[-1.05,-1.23],[-0.97,-1.23],[-0.90,-1.23],[-0.83,-1.23],[-0.75,-1.23],
  [-0.68,-1.23],
  [-1.31,-1.30],[-1.24,-1.30],[-1.17,-1.30],[-1.09,-1.30],[-1.02,-1.30],[-0.95,-1.30],[-0.87,-1.30],[-0.79,-1.30],[-0.71,-1.30],
  [-1.35,-1.34],[-1.25,-1.34],[-1.15,-1.34],[-1.01,-1.34],[-0.85,-1.34],[-0.77,-1.34],
  [-1.20,-1.41],[-1.08,-1.41],[-0.98,-1.41],[-0.84,-1.41],
  [-1.21,-0.83],[-1.16,-0.77],[-1.07,-0.82],[-0.93,-0.84],[-0.88,-0.88],[-0.79,-0.90],[-1.24,-0.93],[-1.17,-0.98],[-1.11,-1.04],
  [-1.04,-1.11],[-0.96,-1.06],[-0.91,-1.03],[-0.81,-0.97],[-0.77,-1.10],[-0.99,-0.89],[-1.04,-0.86],[-1.13,-0.89],[-1.21,-1.09],
  [-1.26,-1.03],[-0.94,-1.14],[-0.87,-1.22],[-1.02,-1.21],[-1.13,-1.19],[-0.81,-0.75],[-0.96,-0.74],[-1.08,-0.72],[-0.89,-1.07],
  [-1.15,-0.94],[-0.93,-0.96],[-0.84,-1.13],
  [-1.27,-0.74],[-1.19,-0.76],[-1.11,-0.73],[-1.03,-0.75],[-0.95,-0.78],[-0.87,-0.74],[-0.78,-0.79],[-0.71,-0.83],
  [-1.31,-0.82],[-1.23,-0.87],[-1.16,-0.83],[-1.08,-0.86],[-0.99,-0.84],[-0.91,-0.82],[-0.83,-0.88],[-0.76,-0.87],
  [-1.34,-0.94],[-1.27,-0.98],[-1.19,-0.95],[-1.11,-0.98],[-1.03,-0.94],[-0.85,-0.95],[-0.78,-0.98],[-0.71,-0.93],
  [-1.32,-1.04],[-1.24,-1.04],[-1.16,-1.08],[-1.08,-1.05],[-0.97,-1.04],[-0.91,-1.09],[-0.82,-1.04],[-0.74,-1.05],
  [-1.29,-1.12],[-1.21,-1.16],[-1.12,-1.13],[-1.03,-1.15],[-0.96,-1.18],[-0.88,-1.14],[-0.79,-1.17],[-0.72,-1.14],
  [-1.24,-1.23],[-1.16,-1.24],[-1.06,-1.25],[-0.98,-1.26],[-0.87,-1.25],[-0.80,-1.28],
  [-1.19,-0.68],[-1.05,-0.67],[-0.91,-0.68],[-0.79,-0.68]
]

const clusterBR = [
  [0.66,-0.04],[1.33,-0.02],[1.37,-0.01],[0.48,-0.10],[1.16,-0.11],[1.34,-0.08],[1.36,-0.12],[1.44,-0.11],[0.22,-0.18],
  [0.82,-0.15],[0.83,-0.18],[0.86,-0.15],[1.23,-0.16],[1.39,-0.19],[1.42,-0.21],[0.62,-0.21],[0.95,-0.24],[1.04,-0.23],
  [1.09,-0.22],[1.19,-0.23],[0.49,-0.29],[0.90,-0.28],[0.98,-0.29],[1.31,-0.26],[0.84,-0.31],[0.91,-0.33],[1.17,-0.30],
  [1.29,-0.34],[1.48,-0.32],[1.60,-0.36],[1.64,-0.33],[1.81,-0.35],[1.02,-0.36],[0.81,-0.37],[0.51,-0.39],[0.90,-0.39],
  [0.96,-0.41],[1.15,-0.36],[1.23,-0.40],[1.32,-0.41],[0.32,-0.41],[0.69,-0.40],[0.75,-0.42],
  [0.49,-0.44],[0.70,-0.44],[0.76,-0.44],[0.92,-0.43],[0.99,-0.47],[1.05,-0.45],[1.11,-0.47],[1.20,-0.49],[1.26,-0.46],
  [1.33,-0.44],[1.99,-0.47],[0.17,-0.50],[0.21,-0.53],[0.29,-0.52],[0.33,-0.52],[0.38,-0.54],[0.56,-0.50],[0.64,-0.49],
  [0.67,-0.53],[0.76,-0.52],[0.85,-0.50],[0.90,-0.53],[1.04,-0.51],[1.13,-0.50],[1.15,-0.54],[1.22,-0.52],[1.29,-0.53],
  [1.51,-0.51],[1.71,-0.49],[1.73,-0.54],[0.16,-0.58],[0.53,-0.60],[0.57,-0.56],[0.63,-0.59],[0.69,-0.56],[0.76,-0.58],
  [0.86,-0.57],[0.94,-0.56],[1.00,-0.58],[1.07,-0.56],[1.15,-0.59],[1.22,-0.57],[1.31,-0.56],[1.45,-0.56],[1.51,-0.58],
  [1.58,-0.60],[1.65,-0.57],[1.72,-0.61],[0.46,-0.61],[0.64,-0.63],[0.83,-0.62],[0.96,-0.61],[1.10,-0.62],[1.39,-0.63],
  [1.43,-0.61],
  [0.24,-0.69],[0.48,-0.67],[0.53,-0.64],[0.61,-0.65],[0.68,-0.67],[0.75,-0.68],[0.81,-0.65],[0.88,-0.68],[0.94,-0.65],
  [1.01,-0.67],[1.08,-0.69],[1.14,-0.65],[1.22,-0.68],[1.29,-0.68],[1.33,-0.65],[1.39,-0.68],[1.47,-0.68],[1.50,-0.65],
  [1.61,-0.69],[1.65,-0.72],[1.74,-0.67],[1.76,-0.72],[1.84,-0.73],[0.24,-0.76],[0.37,-0.79],[0.40,-0.74],[0.48,-0.78],
  [0.56,-0.75],[0.62,-0.72],[0.68,-0.76],[0.75,-0.74],[0.82,-0.76],[0.89,-0.75],[0.97,-0.73],[1.06,-0.76],[1.14,-0.74],
  [1.21,-0.76],[1.28,-0.74],[1.38,-0.76],[1.43,-0.77],[1.49,-0.78],[1.56,-0.81],[1.61,-0.82],[1.69,-0.81],[1.73,-0.83],
  [0.10,-0.83],[0.42,-0.85],[0.56,-0.82],[0.61,-0.83],[0.69,-0.81],[0.78,-0.83],[0.85,-0.81],[0.93,-0.83],[1.03,-0.81],
  [1.10,-0.83],[1.18,-0.82],[1.25,-0.83],[1.32,-0.81],[1.39,-0.83],[1.51,-0.83],
  [0.24,-0.87],[0.06,-0.93],[0.38,-0.90],[0.49,-0.92],[0.57,-0.89],[0.60,-0.93],[0.67,-0.88],[0.74,-0.90],[0.81,-0.88],
  [0.86,-0.92],[0.94,-0.89],[1.00,-0.86],[1.07,-0.90],[1.14,-0.88],[1.21,-0.90],[1.29,-0.89],[1.35,-0.87],[1.40,-0.90],
  [1.50,-0.88],[1.64,-0.90],[1.75,-0.90],[1.90,-0.87],[0.30,-0.97],[0.37,-0.96],[0.42,-0.99],[0.56,-0.97],[0.63,-0.96],
  [0.71,-0.98],[0.78,-0.96],[0.86,-0.99],[0.93,-0.97],[1.11,-0.97],[1.18,-0.96],[1.25,-0.99],[1.32,-0.97],[1.39,-0.98],
  [1.49,-0.97],[1.60,-0.96],[1.69,-0.96],[1.79,-0.97],
  [0.22,-1.03],[0.38,-1.02],[0.44,-1.03],[0.52,-1.03],[0.60,-1.06],[0.67,-1.02],[0.74,-1.05],[0.81,-1.03],[0.89,-1.06],
  [0.97,-1.08],[1.06,-1.03],[1.13,-1.06],[1.21,-1.03],[1.28,-1.06],[1.35,-1.03],[1.46,-1.03],[1.50,-1.06],[1.57,-1.03],
  [1.64,-1.03],[1.70,-1.02],[1.93,-1.06],[0.13,-1.11],[0.25,-1.10],[0.37,-1.13],[0.44,-1.10],[0.51,-1.11],[0.58,-1.13],
  [0.65,-1.10],[0.72,-1.13],[0.81,-1.11],[0.89,-1.13],[0.96,-1.10],[1.03,-1.13],[1.11,-1.11],[1.18,-1.13],[1.25,-1.15],
  [1.33,-1.11],[1.42,-1.13],[1.51,-1.10],[1.60,-1.11],[1.65,-1.10],[1.71,-1.11],[1.82,-1.09],[0.26,-1.16],[0.34,-1.15],
  [0.34,-1.22],[0.40,-1.18],[0.42,-1.23],[0.53,-1.18],[0.60,-1.21],[0.67,-1.18],[0.75,-1.19],[0.82,-1.17],[0.89,-1.19],
  [0.97,-1.18],[1.06,-1.20],[1.13,-1.18],[1.19,-1.21],[1.29,-1.19],[1.36,-1.17],[1.43,-1.19],[1.53,-1.17],[1.59,-1.19],
  [1.76,-1.16],[1.81,-1.20],[1.97,-1.19],[1.92,-1.22],
  [0.46,-1.26],[0.53,-1.25],[0.60,-1.23],[0.69,-1.26],[0.76,-1.24],[0.83,-1.26],[0.92,-1.29],[1.00,-1.30],[1.08,-1.28],
  [1.15,-1.25],[1.24,-1.28],[1.28,-1.25],[1.33,-1.24],[1.40,-1.23],[1.44,-1.25],[1.49,-1.24],[1.58,-1.28],[1.64,-1.30],
  [1.88,-1.26],[0.51,-1.31],[0.60,-1.34],[0.68,-1.35],[0.75,-1.32],[0.83,-1.34],[0.90,-1.32],[0.97,-1.35],[1.06,-1.33],
  [1.13,-1.35],[1.19,-1.33],[1.28,-1.32],[1.36,-1.33],[1.42,-1.35],[1.47,-1.32],[1.51,-1.35],[1.74,-1.34],[1.65,-1.33],
  [0.50,-1.35],[0.26,-1.38],[0.36,-1.40],[0.40,-1.40],[0.44,-1.43],[0.63,-1.40],[0.72,-1.39],[0.81,-1.39],[0.88,-1.40],
  [0.94,-1.39],[1.03,-1.40],[1.10,-1.38],[1.17,-1.41],[1.22,-1.42],[1.28,-1.40],[1.33,-1.38],[1.39,-1.40],[1.45,-1.42],
  [0.15,-1.49],[0.38,-1.51],[0.54,-1.48],[0.60,-1.51],[0.73,-1.49],[0.76,-1.44],[0.85,-1.49],[0.92,-1.47],[1.00,-1.49],
  [1.11,-1.51],[1.19,-1.49],[1.26,-1.46],[1.33,-1.47],[1.39,-1.51],[1.46,-1.49],[1.53,-1.46],[1.67,-1.51],[0.23,-1.54],
  [0.40,-1.59],[0.44,-1.57],[0.57,-1.57],[0.67,-1.59],[0.81,-1.58],[0.90,-1.56],[1.02,-1.58],[1.08,-1.61],[1.19,-1.57],
  [1.31,-1.60],[1.52,-1.56],[1.60,-1.58],[1.77,-1.57],[0.58,-1.65],[0.74,-1.65],[0.86,-1.63],[0.92,-1.68],[0.97,-1.67],
  [1.01,-1.65],[1.40,-1.68],[1.49,-1.67],[1.90,-1.64],[1.20,-1.68],[0.97,-1.73],[1.26,-1.72],[1.20,-1.74],[1.64,-1.73],
  [0.87,-1.77],[1.16,-1.78],[1.19,-1.81],[1.06,-1.82],[1.50,-1.82],[0.74,-1.83],[0.76,-1.87],[0.50,-1.85],[0.94,-1.86],
  [0.97,-1.89],[1.11,-1.86],[1.30,-1.89],[1.17,-1.97]
]

// dichter Kern um (1, -1)
const coreBR = [
  [0.72,-0.47],[0.88,-0.47],[1.02,-0.47],[1.16,-0.47],
  [0.60,-0.55],[0.72,-0.55],[0.80,-0.55],[0.91,-0.55],[1.00,-0.55],[1.10,-0.55],[1.19,-0.55],[1.27,-0.55],[1.38,-0.55],
  [0.57,-0.62],[0.70,-0.62],[0.78,-0.62],[0.88,-0.62],[1.02,-0.62],[1.17,-0.62],[1.25,-0.62],[1.33,-0.62],[1.47,-0.62],
  [0.58,-0.70],[0.64,-0.70],[0.71,-0.70],[0.78,-0.70],[0.85,-0.70],[0.92,-0.70],[0.99,-0.70],[1.05,-0.70],[1.12,-0.70],
  [1.18,-0.70],[1.25,-0.70],[1.33,-0.70],[1.42,-0.70],[1.53,-0.70],
  [0.52,-0.78],[0.59,-0.78],[0.65,-0.78],[0.72,-0.78],[0.79,-0.78],[0.86,-0.78],[0.93,-0.78],[1.00,-0.78],[1.08,-0.78],
  [1.16,-0.78],[1.24,-0.78],[1.32,-0.78],[1.40,-0.78],
  [0.48,-0.85],[0.55,-0.85],[0.63,-0.85],[0.71,-0.85],[0.77,-0.85],[0.83,-0.85],[0.90,-0.85],[0.97,-0.85],[1.05,-0.85],
  [1.12,-0.85],[1.20,-0.85],[1.28,-0.85],[1.36,-0.85],[1.44,-0.85],
  [0.53,-0.92],[0.64,-0.92],[0.70,-0.92],[0.77,-0.92],[0.90,-0.92],[0.98,-0.92],[1.12,-0.92],[1.17,-0.92],[1.24,-0.92],
  [1.31,-0.92],[1.38,-0.92],[1.46,-0.92],[1.54,-0.92],
  [0.48,-1.00],[0.56,-1.00],[0.63,-1.00],[0.70,-1.00],[0.77,-1.00],[0.85,-1.00],[0.91,-1.00],[1.08,-1.00],[1.15,-1.00],
  [1.22,-1.00],[1.29,-1.00],[1.37,-1.00],[1.44,-1.00],[1.52,-1.00],
  [0.54,-1.08],[0.62,-1.08],[0.70,-1.08],[0.78,-1.08],[0.86,-1.08],[0.93,-1.08],[1.00,-1.08],[1.10,-1.08],[1.17,-1.08],
  [1.24,-1.08],[1.31,-1.08],[1.39,-1.08],[1.46,-1.08],
  [0.47,-1.15],[0.55,-1.15],[0.63,-1.15],[0.70,-1.15],[0.78,-1.15],[0.85,-1.15],[0.93,-1.15],[1.00,-1.15],[1.07,-1.15],
  [1.15,-1.15],[1.22,-1.15],[1.31,-1.15],[1.40,-1.15],
  [0.49,-1.22],[0.57,-1.22],[0.64,-1.22],[0.71,-1.22],[0.79,-1.22],[0.86,-1.22],[0.94,-1.22],[1.02,-1.22],[1.09,-1.22],
  [1.16,-1.22],[1.24,-1.22],[1.33,-1.22],
  [0.56,-1.29],[0.64,-1.29],[0.72,-1.29],[0.80,-1.29],[0.87,-1.29],[0.95,-1.29],[1.03,-1.29],[1.11,-1.29],[1.19,-1.29],
  [1.31,-1.29],
  [0.62,-1.37],[0.70,-1.37],[0.78,-1.37],[0.86,-1.37],[0.99,-1.37],[1.08,-1.37],[1.16,-1.37],[1.25,-1.37],
  [0.69,-1.44],[0.83,-1.44],[0.97,-1.44],[1.09,-1.44],[1.18,-1.44],
  [0.77,-0.81],[0.86,-0.77],[0.93,-0.82],[1.07,-0.84],[1.12,-0.88],[1.21,-0.90],[0.76,-0.93],[0.83,-0.96],[0.89,-1.04],
  [0.96,-1.11],[1.04,-1.06],[1.09,-1.03],[1.19,-0.97],[1.23,-1.10],[1.01,-0.89],[0.96,-0.86],[0.87,-0.89],[0.79,-1.09],
  [0.74,-1.03],[1.06,-1.14],[1.13,-1.22],[0.98,-1.21],[0.87,-1.19],[1.19,-0.75],[1.04,-0.74],[0.92,-0.72],[1.11,-1.07],
  [0.85,-0.94],[1.07,-0.96],[1.16,-1.13],
  [0.73,-0.73],[0.81,-0.76],[0.88,-0.74],[0.96,-0.76],[1.04,-0.79],[1.11,-0.73],[1.21,-0.79],[1.28,-0.83],
  [0.68,-0.82],[0.76,-0.88],[0.83,-0.83],[0.91,-0.87],[0.99,-0.84],[1.07,-0.89],[1.15,-0.83],[1.23,-0.88],
  [0.65,-0.96],[0.72,-0.99],[0.79,-0.95],[0.87,-0.98],[0.95,-0.94],[1.13,-0.96],[1.20,-0.99],[1.27,-0.94],
  [0.67,-1.05],[0.76,-1.04],[0.83,-1.09],[0.91,-1.06],[1.01,-1.04],[1.07,-1.10],[1.16,-1.04],[1.25,-1.06],
  [0.69,-1.13],[0.77,-1.17],[0.86,-1.13],[0.95,-1.15],[1.02,-1.19],[1.10,-1.14],[1.19,-1.18],[1.26,-1.14],
  [0.74,-1.23],[0.82,-1.25],[0.92,-1.24],[1.00,-1.27],[1.11,-1.26],[1.18,-1.29],
  [0.79,-0.68],[0.93,-0.67],[1.07,-0.68],[1.19,-0.68]
]

const receivedPoints = [].concat(clusterTL, coreTL, clusterTR, coreTR, clusterBL, coreBL, clusterBR, coreBR)

const chart = echarts.init(document.getElementById('chart'), null, { renderer: 'canvas' })

const fontFamily = '"Liberation Sans", Arial, Helvetica, sans-serif'

function tickFormatter(v) {
  const i = tickValues.indexOf(v)
  return i >= 0 ? tickText[i] : ''
}

const gridLine = {
  show: true,
  lineStyle: { color: '#000', width: 1, type: [6, 4, 2, 4] }
}

const baseAxis = {
  type: 'value',
  min: -2,
  max: 2,
  interval: 1,
  z: 3,
  axisLine: { show: false },
  axisTick: { show: true, inside: true, length: 10, lineStyle: { color: '#000', width: 1.5 } }
}

chart.setOption({
  animation: false,
  backgroundColor: '#fff',
  grid: {
    left: 122,
    top: 25,
    width: 962,
    height: 962,
    outerBoundsMode: 'none',
    containLabel: false,
    show: true,
    borderColor: '#111',
    borderWidth: 2,
    backgroundColor: '#fff'
  },
  xAxis: [
    Object.assign({}, baseAxis, {
      position: 'bottom',
      name: 'Inphasekomponente',
      nameLocation: 'middle',
      nameGap: 60,
      nameMoveOverlap: false,
      nameTextStyle: { color: '#000', fontSize: 36, fontFamily: fontFamily },
      axisLabel: { color: '#000', fontSize: 32, fontFamily: fontFamily, margin: 20, formatter: tickFormatter },
      splitLine: gridLine
    }),
    Object.assign({}, baseAxis, {
      position: 'top',
      axisLabel: { show: false },
      splitLine: { show: false }
    })
  ],
  yAxis: [
    Object.assign({}, baseAxis, {
      position: 'left',
      name: 'Quadraturkomponente',
      nameLocation: 'middle',
      nameRotate: 90,
      nameGap: 76,
      nameMoveOverlap: false,
      nameTextStyle: { color: '#000', fontSize: 36, fontFamily: fontFamily },
      axisLabel: { color: '#000', fontSize: 32, fontFamily: fontFamily, margin: 16, formatter: tickFormatter },
      splitLine: gridLine
    }),
    Object.assign({}, baseAxis, {
      position: 'right',
      axisLabel: { show: false },
      splitLine: { show: false }
    })
  ],
  series: [
    {
      name: 'Empfangen',
      type: 'scatter',
      z: 2,
      symbol: 'rect',
      symbolSize: 8,
      itemStyle: { color: '#3300ff', opacity: 1 },
      data: receivedPoints
    },
    {
      name: 'Sendesymbole',
      type: 'scatter',
      z: 4,
      symbol: 'circle',
      symbolSize: 27,
      itemStyle: { color: '#ee1100', opacity: 1 },
      data: symbolPoints
    },
    {
      name: 'Entscheidungsgrenzen',
      type: 'scatter',
      z: 5,
      data: [],
      markLine: {
        silent: true,
        symbol: ['none', 'none'],
        label: { show: false },
        lineStyle: { color: '#22cc00', width: 6, type: [24, 19], opacity: 1 },
        data: [{ xAxis: 0 }, { yAxis: 0 }]
      }
    }
  ]
})
</script>
</body>
</html>
